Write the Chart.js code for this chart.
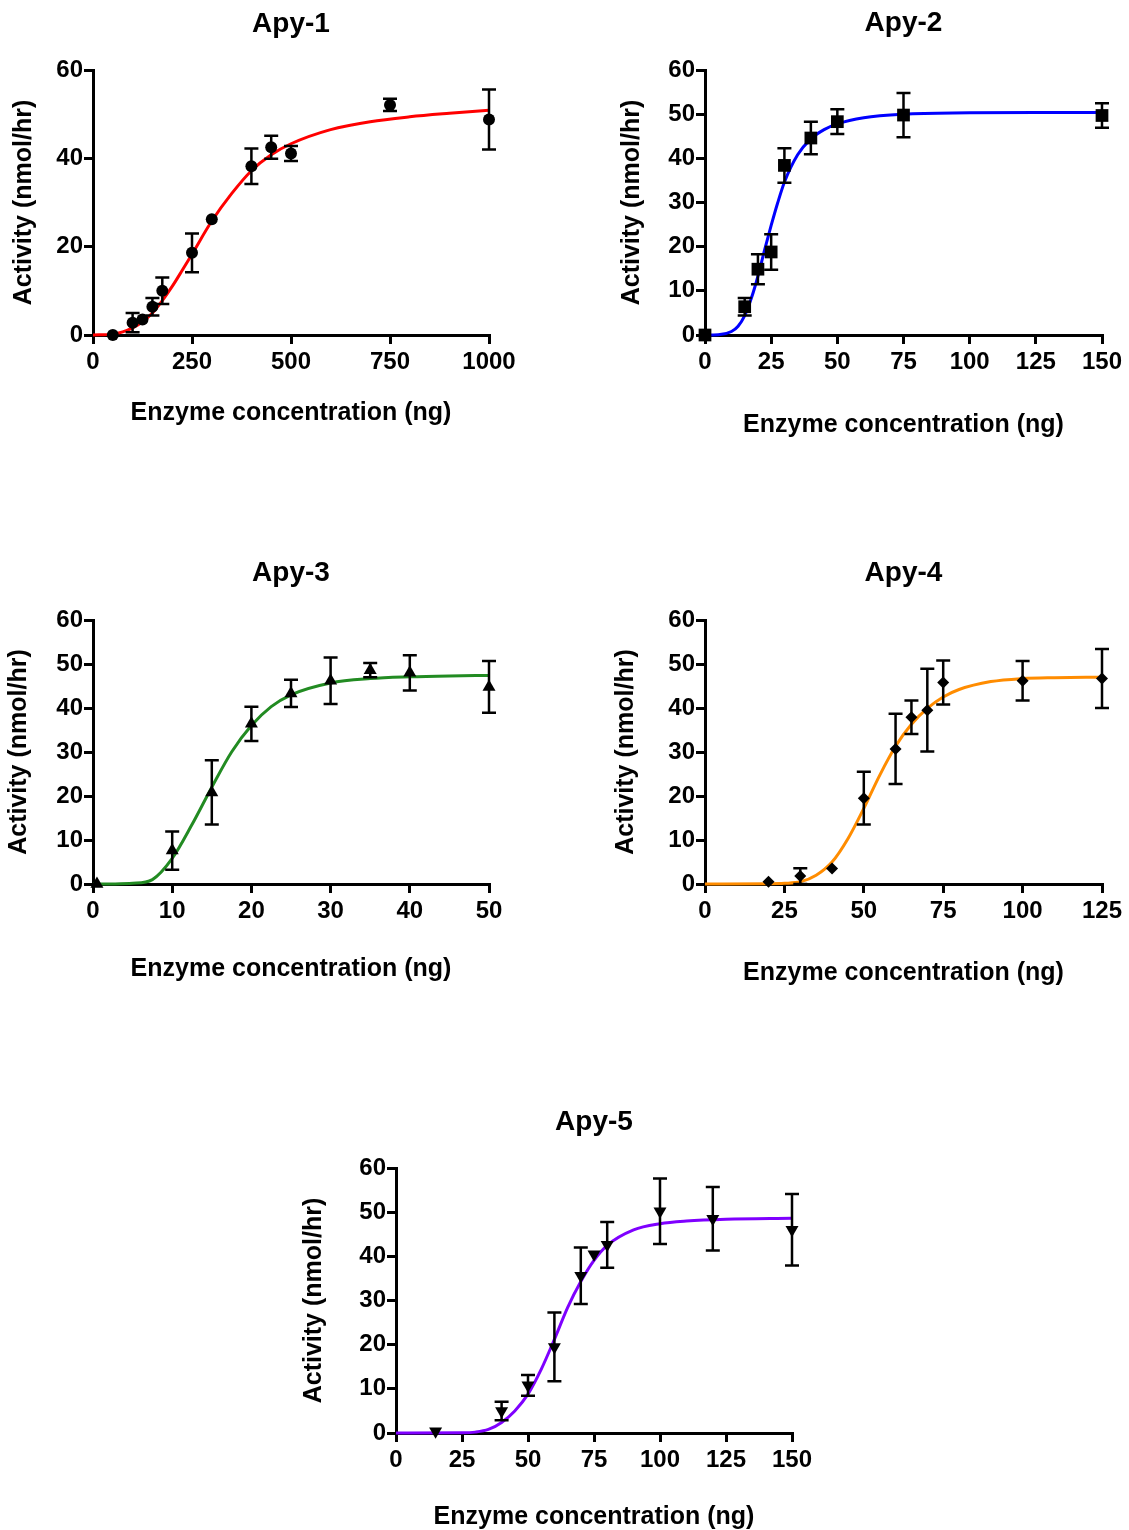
<!DOCTYPE html>
<html>
<head>
<meta charset="utf-8">
<script src="https://cdn.jsdelivr.net/npm/chart.js@4.4.0/dist/chart.umd.min.js"></script>
<style>
    body { margin: 0; background: #fff; overflow: hidden; }
    #wrap { position: relative; width: 1129px; height: 1530px; overflow: hidden; }
    canvas { position: absolute; }
</style>
</head>
<body>
<div id="wrap">
    <canvas id="apy1"></canvas>
    <canvas id="apy2"></canvas>
    <canvas id="apy3"></canvas>
    <canvas id="apy4"></canvas>
    <canvas id="apy5"></canvas>
</div>
<script>
// Apy-1
const apy1X = [50, 100, 125, 150, 175, 250, 300, 400, 450, 500, 750, 1000];
const apy1Y = [0, 2.8, 3.5, 6.4, 10, 18.6, 26.2, 38.2, 42.5, 41.1, 52.1, 48.8];
const apy1Err = [0, 2.2, 0, 2, 3, 4.4, 0, 4, 2.6, 1.7, 1.4, 6.8];
const apy1FitX = [0, 50, 75, 100, 125, 150, 175, 200, 225, 250, 300, 350, 400, 450, 500, 600, 700, 800, 900, 1000];
const apy1FitY = [0, 0.2, 0.7, 1.6, 3.0, 5.0, 7.8, 11.0, 14.6, 18.3, 25.8, 32.0, 37.2, 40.8, 43.3, 46.5, 48.3, 49.4, 50.2, 50.9];
const apy1XTicks = [0, 250, 500, 750, 1000];
const apy1YTicks = [0, 20, 40, 60];

// Apy-2
const apy2X = [0, 15, 20, 25, 30, 40, 50, 75, 150];
const apy2Y = [0, 6.4, 14.9, 18.8, 38.4, 44.6, 48.3, 49.8, 49.7];
const apy2Err = [0, 2, 3.4, 4, 3.9, 3.7, 2.8, 5, 2.8];
const apy2FitX = [0, 5, 10, 12.5, 15, 17.5, 20, 22.5, 25, 27.5, 30, 35, 40, 45, 50, 60, 75, 100, 125, 150];
const apy2FitY = [0, 0.05, 0.8, 2.0, 4.4, 8.3, 13.3, 19.2, 24.8, 30.0, 34.6, 40.8, 44.4, 46.5, 47.8, 49.2, 50.0, 50.3, 50.4, 50.4];
const apy2XTicks = [0, 25, 50, 75, 100, 125, 150];
const apy2YTicks = [0, 10, 20, 30, 40, 50, 60];

// Apy-3
const apy3X = [0.5, 10, 15, 20, 25, 30, 35, 40, 50];
const apy3Y = [0, 7.6, 20.8, 36.4, 43.3, 46.2, 48.6, 48.0, 44.8];
const apy3Err = [0, 4.35, 7.3, 3.9, 3.1, 5.3, 1.6, 4, 5.9];
const apy3FitX = [0, 2.5, 5, 7.5, 10, 12.5, 15, 17.5, 20, 22.5, 25, 30, 35, 40, 45, 50];
const apy3FitY = [0, 0.02, 0.15, 1.0, 5.8, 13.5, 22.0, 30.0, 36.0, 40.3, 43.0, 45.7, 46.7, 47.1, 47.3, 47.4];
const apy3XTicks = [0, 10, 20, 30, 40, 50];
const apy3YTicks = [0, 10, 20, 30, 40, 50, 60];

// Apy-4
const apy4X = [20, 30, 40, 50, 60, 65, 70, 75, 100, 125];
const apy4Y = [0.5, 1.8, 3.5, 19.5, 30.7, 37.9, 39.5, 45.8, 46.2, 46.7];
const apy4Err = [0, 1.8, 0, 6, 8, 3.8, 9.4, 5, 4.5, 6.7];
const apy4FitX = [0, 20, 25, 30, 35, 40, 45, 50, 55, 60, 65, 70, 75, 80, 90, 100, 110, 125];
const apy4FitY = [0, 0.05, 0.15, 0.5, 2.0, 5.0, 10.3, 17.2, 24.7, 31.3, 36.3, 39.9, 42.5, 44.2, 46.0, 46.7, 46.9, 47.0];
const apy4XTicks = [0, 25, 50, 75, 100, 125];
const apy4YTicks = [0, 10, 20, 30, 40, 50, 60];

// Apy-5
const apy5X = [15, 40, 50, 60, 70, 75, 80, 100, 120, 150];
const apy5Y = [0.4, 5.0, 10.8, 19.5, 35.6, 40.5, 42.6, 50.2, 48.5, 46.0];
const apy5Err = [0, 2.1, 2.35, 7.8, 6.4, 0, 5.2, 7.4, 7.2, 8.1];
const apy5FitX = [0, 25, 30, 35, 40, 45, 50, 55, 60, 65, 70, 75, 80, 90, 100, 110, 125, 150];
const apy5FitY = [0, 0.05, 0.2, 0.8, 2.4, 5.0, 8.8, 14.4, 21.2, 28.4, 34.3, 39.1, 42.5, 46.0, 47.4, 48.0, 48.4, 48.6];
const apy5XTicks = [0, 25, 50, 75, 100, 125, 150];
const apy5YTicks = [0, 10, 20, 30, 40, 50, 60];

const xTitle = 'Enzyme concentration (ng)';
const yTitle = 'Activity (nmol/hr)';

Chart.defaults.font.family = '"Liberation Sans", Arial, sans-serif';
Chart.defaults.color = '#000';

// error bars drawn with the chart's own scales
const errorBars = {
    id: 'errorBars',
    afterDatasetsDraw(chart) {
        const ctx = chart.ctx;
        const xs = chart.scales.x;
        const ys = chart.scales.y;
        chart.data.datasets.forEach(ds => {
            if (!ds.errors) return;
            ctx.save();
            ctx.strokeStyle = '#000';
            ctx.lineWidth = 2.5;
            ds.data.forEach((p, i) => {
                const e = ds.errors[i];
                if (!e) return;
                const x = xs.getPixelForValue(p.x);
                const top = ys.getPixelForValue(p.y + e);
                const bot = ys.getPixelForValue(p.y - e);
                ctx.beginPath();
                ctx.moveTo(x, top); ctx.lineTo(x, bot);
                ctx.moveTo(x - 7, top); ctx.lineTo(x + 7, top);
                ctx.moveTo(x - 7, bot); ctx.lineTo(x + 7, bot);
                ctx.stroke();
            });
            ctx.restore();
        });
    }
};

function zeroPad(s) {
    s.paddingLeft = 0; s.paddingRight = 0; s.paddingTop = 0; s.paddingBottom = 0;
}

function makePanel(p) {
    const cv = document.getElementById(p.id);
    cv.width = p.w;
    cv.height = p.h;
    cv.style.left = p.cx + 'px';
    cv.style.top = p.cy + 'px';

    const L = p.left - p.cx, R = p.right - p.cx, T = p.top - p.cy, B = p.bottom - p.cy;
    const titlePadTop = p.titleY - p.cy - 16.8;
    const titlePadBottom = T - titlePadTop - 33.6;
    const yScaleLeft = p.yTitleX - p.cx - 15;
    const xScaleBottom = p.xTitleY - p.cy + 15;

    const axis = {
        type: 'linear',
        grid: { drawOnChartArea: false, tickLength: 9, lineWidth: 3, color: '#000' },
        border: { display: true, width: 3, color: '#000' }
    };

    new Chart(cv, {
        type: 'scatter',
        data: {
            datasets: [{
                data: p.xs.map((x, i) => ({ x: x, y: p.ys[i] })),
                errors: p.errs,
                pointStyle: p.marker,
                rotation: p.rot || 0,
                pointRadius: p.r,
                pointHoverRadius: p.r,
                backgroundColor: '#000',
                borderColor: '#000',
                borderWidth: 0,
                clip: false
            }, {
                type: 'line',
                data: p.fitX.map((x, i) => ({ x: x, y: p.fitY[i] })),
                borderColor: p.color,
                borderWidth: 3,
                pointRadius: 0,
                cubicInterpolationMode: 'monotone',
                fill: false,
                clip: false
            }]
        },
        options: {
            responsive: false,
            animation: false,
            events: [],
            layout: {
                padding: { left: yScaleLeft, right: p.w - R, top: 0, bottom: p.h - xScaleBottom }
            },
            plugins: {
                legend: { display: false },
                tooltip: { enabled: false },
                title: {
                    display: true,
                    fullSize: false,
                    text: p.title,
                    color: '#000',
                    font: { size: 28, weight: 'bold' },
                    padding: { top: titlePadTop, bottom: titlePadBottom }
                }
            },
            scales: {
                x: Object.assign({}, axis, {
                    min: p.xTicks[0],
                    max: p.xTicks[p.xTicks.length - 1],
                    afterBuildTicks: s => { s.ticks = p.xTicks.map(v => ({ value: v })); },
                    afterFit: s => { s.height = xScaleBottom - B; zeroPad(s); },
                    ticks: {
                        font: { size: 24, weight: 'bold' }, color: '#000', padding: 4,
                        maxRotation: 0, autoSkip: false, callback: v => String(v)
                    },
                    title: { display: true, text: xTitle, color: '#000', font: { size: 25, weight: 'bold' }, padding: 0 }
                }),
                y: Object.assign({}, axis, {
                    min: p.yTicks[0],
                    max: p.yTicks[p.yTicks.length - 1],
                    afterBuildTicks: s => { s.ticks = p.yTicks.map(v => ({ value: v })); },
                    afterFit: s => { s.width = L - yScaleLeft; zeroPad(s); },
                    ticks: { font: { size: 24, weight: 'bold' }, color: '#000', padding: 1, autoSkip: false, callback: v => String(v) },
                    title: { display: true, text: yTitle, color: '#000', font: { size: 25, weight: 'bold' }, padding: 0 }
                })
            }
        },
        plugins: [errorBars]
    });
}

makePanel({
    id: 'apy1', title: 'Apy-1', cx: 0, cy: 0, w: 560, h: 450,
    left: 93, right: 489, top: 70, bottom: 335, titleY: 24, xTitleY: 413, yTitleX: 24,
    xs: apy1X, ys: apy1Y, errs: apy1Err, fitX: apy1FitX, fitY: apy1FitY,
    xTicks: apy1XTicks, yTicks: apy1YTicks, color: '#ff0000', marker: 'circle', r: 6
});
makePanel({
    id: 'apy2', title: 'Apy-2', cx: 565, cy: 0, w: 564, h: 450,
    left: 705, right: 1102, top: 70, bottom: 335, titleY: 23, xTitleY: 425, yTitleX: 632,
    xs: apy2X, ys: apy2Y, errs: apy2Err, fitX: apy2FitX, fitY: apy2FitY,
    xTicks: apy2XTicks, yTicks: apy2YTicks, color: '#0000ff', marker: 'rect', r: 9
});
makePanel({
    id: 'apy3', title: 'Apy-3', cx: 0, cy: 545, w: 560, h: 450,
    left: 93, right: 489, top: 620, bottom: 884, titleY: 573, xTitleY: 969, yTitleX: 19,
    xs: apy3X, ys: apy3Y, errs: apy3Err, fitX: apy3FitX, fitY: apy3FitY,
    xTicks: apy3XTicks, yTicks: apy3YTicks, color: '#228b22', marker: 'triangle', r: 7.5
});
makePanel({
    id: 'apy4', title: 'Apy-4', cx: 565, cy: 545, w: 564, h: 450,
    left: 705, right: 1102, top: 620, bottom: 884, titleY: 573, xTitleY: 973, yTitleX: 626,
    xs: apy4X, ys: apy4Y, errs: apy4Err, fitX: apy4FitX, fitY: apy4FitY,
    xTicks: apy4XTicks, yTicks: apy4YTicks, color: '#ff8c00', marker: 'rectRot', r: 6
});
makePanel({
    id: 'apy5', title: 'Apy-5', cx: 280, cy: 1088, w: 560, h: 444,
    left: 396, right: 792, top: 1168, bottom: 1433, titleY: 1122, xTitleY: 1517, yTitleX: 314,
    xs: apy5X, ys: apy5Y, errs: apy5Err, fitX: apy5FitX, fitY: apy5FitY,
    xTicks: apy5XTicks, yTicks: apy5YTicks, color: '#7f00ff', marker: 'triangle', rot: 180, r: 7.5
});
</script>
</body>
</html>
